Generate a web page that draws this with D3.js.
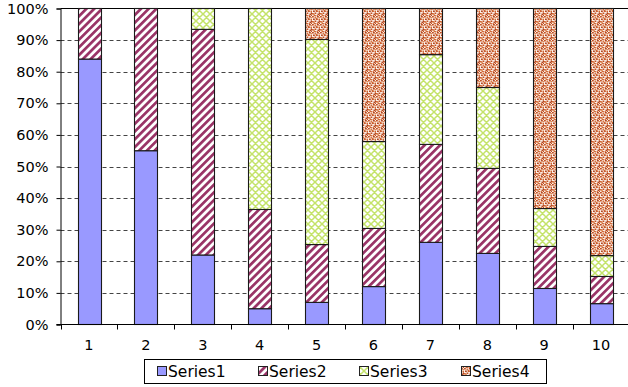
<!DOCTYPE html>
<html><head><meta charset="utf-8">
<script src="https://cdn.jsdelivr.net/npm/d3@7"></script>
<style>
html,body{margin:0;padding:0;background:#fff;}
svg{display:block;}
text{font-family:"DejaVu Sans","Liberation Sans",Arial,sans-serif;fill:#000;}
</style></head>
<body>
<svg id="chart" width="628" height="387"></svg>
<script>
const categories = ["1","2","3","4","5","6","7","8","9","10"];
const seriesNames = ["Series1","Series2","Series3","Series4"];
const series1 = [84, 55, 22, 5, 7, 12, 26, 22.5, 11.4, 6.6];
const series2 = [16, 45, 71.4, 31.4, 18.3, 18.4, 31, 26.9, 13.3, 8.6];
const series3 = [0, 0, 6.6, 63.6, 64.9, 27.5, 28.4, 25.6, 12, 6.6];
const series4 = [0, 0, 0, 0, 9.8, 42.1, 14.6, 25, 63.3, 78.2];
const yTicks = [0, 0.1, 0.2, 0.3, 0.4, 0.5, 0.6, 0.7, 0.8, 0.9, 1];

(function(){
const svg = d3.select("#chart");
const defs = svg.append("defs");

// Series2: diagonal stripes
const p2 = defs.append("pattern").attr("id","pat2").attr("patternUnits","userSpaceOnUse")
  .attr("width",5.5).attr("height",5.5).attr("patternTransform","rotate(45)");
p2.append("rect").attr("width",5.5).attr("height",5.5).attr("fill","#fff");
p2.append("rect").attr("width",2.7).attr("height",5.5).attr("fill","#993366");

// Series3: lattice
const p3 = defs.append("pattern").attr("id","pat3").attr("patternUnits","userSpaceOnUse")
  .attr("width",7).attr("height",7);
p3.append("rect").attr("width",7).attr("height",7).attr("fill","#fff");
p3.append("path").attr("d","M0,0L7,7M7,0L0,7M-1,6L1,8M6,-1L8,1M-1,1L1,-1M6,8L8,6")
  .attr("stroke","#c4e36a").attr("stroke-width",1.5).attr("fill","none");

// Series4: confetti
const p4 = defs.append("pattern").attr("id","pat4").attr("patternUnits","userSpaceOnUse")
  .attr("width",8).attr("height",8);
p4.append("rect").attr("width",8).attr("height",8).attr("fill","#fbeee6");
const specks = [[0,0,"#c24f22"],[2.5,0.5,"#d9733f"],[5,0,"#b04520"],[4,2.5,"#c24f22"],[6.5,3,"#d06530"],
  [1,2.5,"#b04520"],[0,5,"#d06530"],[2.5,4.5,"#c24f22"],[5.5,5.5,"#b04520"],[2,7,"#c24f22"],[4.5,7,"#d9733f"],[7,6.5,"#c24f22"],[6.5,1,"#e08a55"],[1,6,"#e08a55"],[3.5,2,"#d06530"],[7,4.5,"#b04520"]];
specks.forEach(s=>p4.append("rect").attr("x",s[0]).attr("y",s[1]).attr("width",1.8).attr("height",1.5).attr("fill",s[2]));

const fills = ["#9999ff","url(#pat2)","url(#pat3)","url(#pat4)"];

const pl = 60.5, pr = 629.5, pt = 8.5, pb = 324.5;

const rows = categories.map((c,i)=>{
  const tot = series1[i]+series2[i]+series3[i]+series4[i];
  return {cat:c, Series1:series1[i]/tot, Series2:series2[i]/tot, Series3:series3[i]/tot, Series4:series4[i]/tot};
});
const stacked = d3.stack().keys(seriesNames)(rows);

const x = d3.scaleBand().domain(categories).range([pl,pr]).paddingInner(0.6).paddingOuter(0.3);
const y = d3.scaleLinear().domain([0,1]).range([pb,pt]);

// gridlines
svg.append("g").selectAll("line").data(yTicks.filter(t=>t>0 && t<1)).join("line")
  .attr("x1",pl).attr("x2",pr).attr("y1",d=>Math.round(y(d))+0.5).attr("y2",d=>Math.round(y(d))+0.5)
  .attr("stroke","#444").attr("stroke-dasharray","4,3").attr("stroke-width",1);
// top border
svg.append("line").attr("x1",pl).attr("x2",pr).attr("y1",pt).attr("y2",pt).attr("stroke","#000");

// bars
svg.append("g").selectAll("g").data(stacked).join("g")
  .attr("fill",(d,i)=>fills[i])
  .selectAll("rect").data(d=>d.map(v=>({v, cat:v.data.cat}))).join("rect")
  .attr("x",d=>Math.round(x(d.cat))+0.5)
  .attr("y",d=>y(d.v[1]))
  .attr("width",Math.round(x.bandwidth()))
  .attr("height",d=>Math.max(0,y(d.v[0])-y(d.v[1])))
  .attr("stroke",d=>(d.v[1]-d.v[0])>0?"#1a1a1a":"none").attr("stroke-width",1.1);

// y axis
const yAxis = d3.axisLeft(y).tickValues(yTicks).tickFormat(d3.format(".0%")).tickSize(4).tickPadding(8);
const gy = svg.append("g").attr("transform",`translate(${pl},0)`).call(yAxis);
gy.select(".domain").attr("stroke","#000");
gy.selectAll(".tick text").attr("font-size",14.5).attr("font-family","DejaVu Sans, Liberation Sans, Arial");

// x axis
const gx = svg.append("g").attr("transform",`translate(0,${pb})`);
gx.append("line").attr("x1",pl-4).attr("x2",pr).attr("y1",0).attr("y2",0).attr("stroke","#000");
const bounds = d3.range(categories.length+1).map(i=>pl + i*x.step());
gx.selectAll("line.t").data(bounds).join("line").attr("class","t")
  .attr("x1",d=>Math.round(d)+0.5).attr("x2",d=>Math.round(d)+0.5).attr("y1",0).attr("y2",5).attr("stroke","#000");
gx.selectAll("text").data(categories).join("text")
  .attr("x",d=>x(d)+x.bandwidth()/2).attr("y",25.5).attr("text-anchor","middle")
  .attr("font-size",14.5).text(d=>d);

// legend
const lg = svg.append("g");
lg.append("rect").attr("x",144.5).attr("y",359.5).attr("width",402).attr("height",24)
  .attr("fill","#fff").attr("stroke","#000");
const lx = [157,258,359,461];
seriesNames.forEach((n,i)=>{
  lg.append("rect").attr("x",lx[i]+0.5).attr("y",366.5).attr("width",9).attr("height",9)
    .attr("fill",fills[i]).attr("stroke","#222");
  lg.append("text").attr("x",lx[i]+11).attr("y",377).attr("font-size",15.5).text(n);
});
})();
</script>
</body></html>
